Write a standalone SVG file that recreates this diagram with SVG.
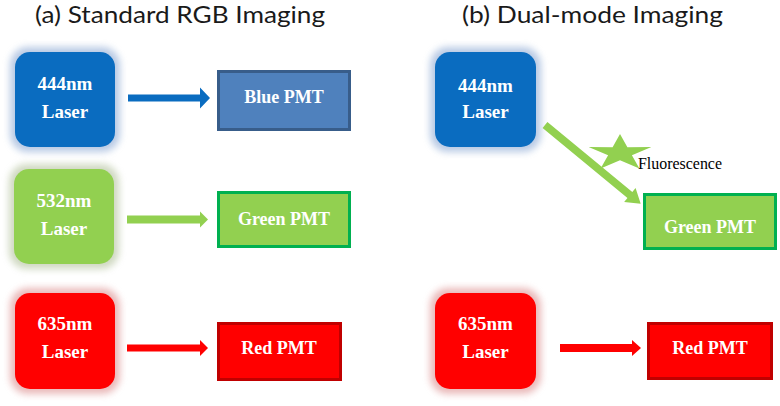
<svg xmlns="http://www.w3.org/2000/svg" width="780" height="406" viewBox="0 0 780 406">
<defs>
<filter id="blur" x="-30%" y="-30%" width="160%" height="160%"><feGaussianBlur stdDeviation="3.5"/></filter>
<style>
.title{font-family:Lato,"Open Sans","Liberation Sans",sans-serif;font-size:24px;fill:#1a1a1a}
.lbl{font-family:"Liberation Serif","Times New Roman",serif;font-weight:bold;fill:#ffffff;text-anchor:middle}
.las{font-size:19px}
.pmt{font-size:18px}
.blueL{fill:#0a6cc0}
.greenL{fill:#92d050}
.redL{fill:#ff0000}
.glowB{fill:#7f9fcf;opacity:0.55}
.glowG{fill:#a9b98f;opacity:0.55}
.glowR{fill:#d88080;opacity:0.55}
.fl{font-family:"Liberation Serif","Times New Roman",serif;font-size:16px;fill:#000000}
</style>
</defs>
<rect width="780" height="406" fill="#ffffff"/>
<text class="title" x="35" y="23" textLength="290" lengthAdjust="spacingAndGlyphs">(a) Standard RGB Imaging</text>
<text class="title" x="462" y="23" textLength="261" lengthAdjust="spacingAndGlyphs">(b) Dual-mode Imaging</text>

<g id="a_blue_laser">
<rect class="glowB" x="10" y="47" width="110" height="105" rx="18" filter="url(#blur)"/>
<rect class="blueL" x="15" y="52" width="100" height="95" rx="15"/>
<text class="lbl las" x="65" y="90">444nm</text>
<text class="lbl las" x="65" y="118">Laser</text>
</g>
<g id="a_blue_pmt">
<rect x="218.5" y="71.5" width="131" height="58" fill="#4f81bd" stroke="#385d8a" stroke-width="3"/>
<text class="lbl pmt" x="284" y="103">Blue PMT</text>
</g>
<g id="a_green_laser">
<rect class="glowG" x="9" y="164" width="110" height="105" rx="18" filter="url(#blur)"/>
<rect class="greenL" x="14" y="169" width="100" height="95" rx="15"/>
<text class="lbl las" x="64" y="207">532nm</text>
<text class="lbl las" x="64" y="235">Laser</text>
</g>
<g id="a_green_pmt">
<rect x="218.5" y="192.5" width="131" height="54" fill="#92d050" stroke="#00b050" stroke-width="3"/>
<text class="lbl pmt" x="284" y="225">Green PMT</text>
</g>
<g id="a_red_laser">
<rect class="glowR" x="10" y="288" width="110" height="106" rx="18" filter="url(#blur)"/>
<rect class="redL" x="15" y="293" width="100" height="96" rx="15"/>
<text class="lbl las" x="65" y="330">635nm</text>
<text class="lbl las" x="65" y="358">Laser</text>
</g>
<g id="a_red_pmt">
<rect x="218.5" y="323.5" width="122" height="56" fill="#ff0000" stroke="#c00000" stroke-width="3"/>
<text class="lbl pmt" x="279" y="354">Red PMT</text>
</g>

<g id="b_blue_laser">
<rect class="glowB" x="430" y="47" width="111" height="105" rx="18" filter="url(#blur)"/>
<rect class="blueL" x="435" y="52" width="101" height="95" rx="15"/>
<text class="lbl las" x="485.5" y="92">444nm</text>
<text class="lbl las" x="485.5" y="118">Laser</text>
</g>
<g id="b_green_pmt">
<rect x="644.5" y="194.5" width="131" height="54" fill="#92d050" stroke="#00b050" stroke-width="3"/>
<text class="lbl pmt" x="710" y="233">Green PMT</text>
</g>
<g id="b_red_laser">
<rect class="glowR" x="430" y="288" width="111" height="106" rx="18" filter="url(#blur)"/>
<rect class="redL" x="435" y="293" width="101" height="96" rx="15"/>
<text class="lbl las" x="485.5" y="330">635nm</text>
<text class="lbl las" x="485.5" y="358">Laser</text>
</g>
<g id="b_red_pmt">
<rect x="648.5" y="323.5" width="123" height="55" fill="#ff0000" stroke="#c00000" stroke-width="3"/>
<text class="lbl pmt" x="710" y="354">Red PMT</text>
</g>

<g id="connectors">
<polygon fill="#0a6cc0" points="128,94.5 200,94.5 200,87.5 210,98 200,108.5 200,101.5 128,101.5"/>
<polygon fill="#92d050" points="127,215.5 200,215.5 200,211.5 208,219.5 200,227.5 200,223.5 127,223.5"/>
<polygon fill="#ff0000" points="127,344.5 200,344.5 200,340 208,348 200,356 200,351.5 127,351.5"/>
<polygon fill="#ff0000" points="560,344 632,344 632,340 641,348 632,356 632,352 560,352"/>
<g transform="translate(545,125) rotate(39.5)">
<polygon fill="#92d050" points="0,-3.8 110,-3.8 110,-9 124,0 110,9 110,3.8 0,3.8"/>
</g>
<polygon id="star" fill="#92d050" points="620,134 627.4,147.2 651.4,147.1 631.9,155.2 639.4,168.4 620,160.2 600.6,168.4 608.1,155.2 588.6,147.1 612.6,147.2"/>
<text class="fl" x="638" y="169" textLength="84" lengthAdjust="spacingAndGlyphs">Fluorescence</text>
</g>
</svg>
